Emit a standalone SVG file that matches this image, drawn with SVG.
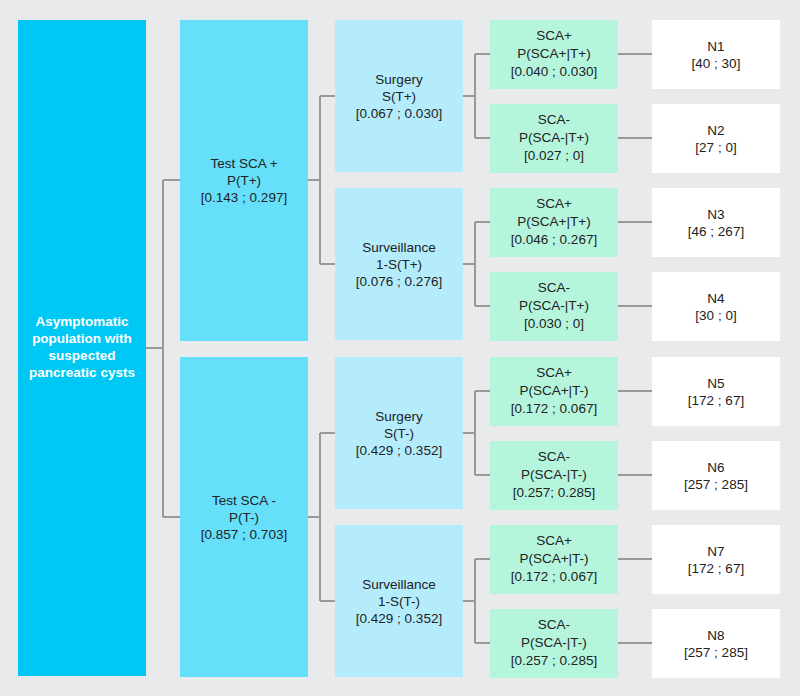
<svg xmlns="http://www.w3.org/2000/svg" width="800" height="696" viewBox="0 0 800 696">
<style>
.bg{fill:#e9eaec}
.c1{fill:#00c8f5}
.c2{fill:#66dffb}
.c3{fill:#b4ecfc}
.c4{fill:#b4f5dc}
.c5{fill:#ffffff}
text{font-family:"Liberation Sans","Noto Sans",Arial,sans-serif;font-size:13.5px;fill:#222;text-anchor:middle}
text.w{fill:#ffffff;font-weight:bold}
.con{fill:none;stroke:#999999;stroke-width:2}
</style>
<rect class="bg" x="0" y="0" width="800" height="696"/>
<g id="connectors">
<path class="con" d="M146,348 H163 M163,180 V517 M163,180 H180 M163,517 H180"/>
<path class="con" d="M308,180 H320 M320,96 V264 M320,96 H335 M320,264 H335"/>
<path class="con" d="M308,517 H320 M320,433 V601 M320,433 H335 M320,601 H335"/>
<path class="con" d="M463,96 H475 M475,54 V138 M475,54 H490 M475,138 H490"/>
<path class="con" d="M463,264 H475 M475,222 V306 M475,222 H490 M475,306 H490"/>
<path class="con" d="M463,433 H475 M475,391 V475 M475,391 H490 M475,475 H490"/>
<path class="con" d="M463,601 H475 M475,559 V643 M475,559 H490 M475,643 H490"/>
<path class="con" d="M618,54 H652 M618,138 H652 M618,222 H652 M618,306 H652 M618,391 H652 M618,475 H652 M618,559 H652 M618,643 H652"/>
</g>
<g id="root">
<rect class="c1" x="18" y="20" width="128" height="656"/>
<text class="w" x="82" y="326">Asymptomatic</text>
<text class="w" x="82" y="343">population with</text>
<text class="w" x="82" y="360">suspected</text>
<text class="w" x="82" y="377">pancreatic cysts</text>
</g>
<g id="testpos">
<rect class="c2" x="180" y="20" width="128" height="321"/>
<text x="244" y="168">Test SCA +</text>
<text x="244" y="185">P(T+)</text>
<text x="244" y="202">[0.143 ; 0.297]</text>
</g>
<g id="testneg">
<rect class="c2" x="180" y="357" width="128" height="320"/>
<text x="244" y="505">Test SCA -</text>
<text x="244" y="522">P(T-)</text>
<text x="244" y="539">[0.857 ; 0.703]</text>
</g>
<g id="surgery1">
<rect class="c3" x="335" y="20" width="128" height="152"/>
<text x="399" y="84">Surgery</text>
<text x="399" y="101">S(T+)</text>
<text x="399" y="118">[0.067 ; 0.030]</text>
</g>
<g id="surv1">
<rect class="c3" x="335" y="188" width="128" height="152"/>
<text x="399" y="252">Surveillance</text>
<text x="399" y="269">1-S(T+)</text>
<text x="399" y="286">[0.076 ; 0.276]</text>
</g>
<g id="surgery2">
<rect class="c3" x="335" y="357" width="128" height="152"/>
<text x="399" y="421">Surgery</text>
<text x="399" y="438">S(T-)</text>
<text x="399" y="455">[0.429 ; 0.352]</text>
</g>
<g id="surv2">
<rect class="c3" x="335" y="525" width="128" height="152"/>
<text x="399" y="589">Surveillance</text>
<text x="399" y="606">1-S(T-)</text>
<text x="399" y="623">[0.429 ; 0.352]</text>
</g>
<g id="sca1">
<rect class="c4" x="490" y="20" width="128" height="69"/>
<text x="554" y="40">SCA+</text>
<text x="554" y="58">P(SCA+|T+)</text>
<text x="554" y="76">[0.040 ; 0.030]</text>
</g>
<g id="sca2">
<rect class="c4" x="490" y="104" width="128" height="69"/>
<text x="554" y="124">SCA-</text>
<text x="554" y="142">P(SCA-|T+)</text>
<text x="554" y="160">[0.027 ; 0]</text>
</g>
<g id="sca3">
<rect class="c4" x="490" y="188" width="128" height="69"/>
<text x="554" y="208">SCA+</text>
<text x="554" y="226">P(SCA+|T+)</text>
<text x="554" y="244">[0.046 ; 0.267]</text>
</g>
<g id="sca4">
<rect class="c4" x="490" y="272" width="128" height="69"/>
<text x="554" y="292">SCA-</text>
<text x="554" y="310">P(SCA-|T+)</text>
<text x="554" y="328">[0.030 ; 0]</text>
</g>
<g id="sca5">
<rect class="c4" x="490" y="357" width="128" height="69"/>
<text x="554" y="377">SCA+</text>
<text x="554" y="395">P(SCA+|T-)</text>
<text x="554" y="413">[0.172 ; 0.067]</text>
</g>
<g id="sca6">
<rect class="c4" x="490" y="441" width="128" height="69"/>
<text x="554" y="461">SCA-</text>
<text x="554" y="479">P(SCA-|T-)</text>
<text x="554" y="497">[0.257;  0.285]</text>
</g>
<g id="sca7">
<rect class="c4" x="490" y="525" width="128" height="69"/>
<text x="554" y="545">SCA+</text>
<text x="554" y="563">P(SCA+|T-)</text>
<text x="554" y="581">[0.172 ; 0.067]</text>
</g>
<g id="sca8">
<rect class="c4" x="490" y="609" width="128" height="69"/>
<text x="554" y="629">SCA-</text>
<text x="554" y="647">P(SCA-|T-)</text>
<text x="554" y="665">[0.257 ; 0.285]</text>
</g>
<g id="n1">
<rect class="c5" x="652" y="20" width="128" height="69"/>
<text x="716" y="51">N1</text>
<text x="716" y="68">[40 ; 30]</text>
</g>
<g id="n2">
<rect class="c5" x="652" y="104" width="128" height="69"/>
<text x="716" y="135">N2</text>
<text x="716" y="152">[27 ; 0]</text>
</g>
<g id="n3">
<rect class="c5" x="652" y="188" width="128" height="69"/>
<text x="716" y="219">N3</text>
<text x="716" y="236">[46 ; 267]</text>
</g>
<g id="n4">
<rect class="c5" x="652" y="272" width="128" height="69"/>
<text x="716" y="303">N4</text>
<text x="716" y="320">[30 ; 0]</text>
</g>
<g id="n5">
<rect class="c5" x="652" y="357" width="128" height="69"/>
<text x="716" y="388">N5</text>
<text x="716" y="405">[172 ; 67]</text>
</g>
<g id="n6">
<rect class="c5" x="652" y="441" width="128" height="69"/>
<text x="716" y="472">N6</text>
<text x="716" y="489">[257 ; 285]</text>
</g>
<g id="n7">
<rect class="c5" x="652" y="525" width="128" height="69"/>
<text x="716" y="556">N7</text>
<text x="716" y="573">[172 ; 67]</text>
</g>
<g id="n8">
<rect class="c5" x="652" y="609" width="128" height="69"/>
<text x="716" y="640">N8</text>
<text x="716" y="657">[257 ; 285]</text>
</g>
</svg>
